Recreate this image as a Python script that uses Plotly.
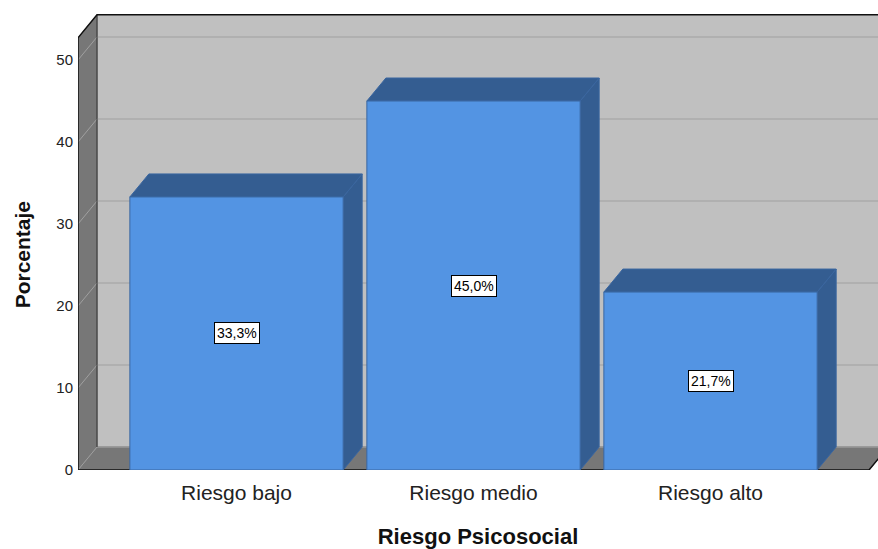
import plotly.graph_objects as go

# Data
categories = ["Riesgo bajo", "Riesgo medio", "Riesgo alto"]
porcentajes = [33.3, 45.0, 21.7]
y_ticks = [0, 10, 20, 30, 40, 50]

# Pseudo-3D geometry (data units)
PX_PER_CAT = 237.0
PX_PER_UNIT = 8.2
DX = 19 / PX_PER_CAT          # depth offset along x
DY = 23 / PX_PER_UNIT         # depth offset along y
BAR_W = 0.9
X_LEFT = -0.6688
X_RIGHT = 2.6688
V_TOP = 52.7

PLOT_L, PLOT_T, PLOT_B = 78, 12, 79
W, H = 878, 549
x_range = [X_LEFT, X_LEFT + (W - PLOT_L) / PX_PER_CAT]
y_range = [0, (H - PLOT_T - PLOT_B) / PX_PER_UNIT]

BACK_WALL = "#C0C0C0"
SIDE_WALL = "#777777"
GRID_BACK = "#ABABAB"
GRID_SIDE = "#A0A0A0"
BAR_FRONT = "#5394E3"
BAR_DARK = "#345D91"
BAR_EDGE = "#3A66A0"

fig = go.Figure()


def poly(xs, ys, fill, line_color=None, width=1):
    fig.add_trace(go.Scatter(
        x=list(xs) + [xs[0]], y=list(ys) + [ys[0]],
        mode="lines", fill="toself", fillcolor=fill,
        line=dict(color=line_color or fill, width=width),
        hoverinfo="skip", showlegend=False,
    ))


def seg(xs, ys, color, width=1):
    fig.add_trace(go.Scatter(
        x=xs, y=ys, mode="lines", line=dict(color=color, width=width),
        hoverinfo="skip", showlegend=False,
    ))


# Back wall
bx0 = X_LEFT + DX
bx1 = X_RIGHT + DX + 0.2
poly([bx0, bx1, bx1, bx0], [DY, DY, V_TOP + DY, V_TOP + DY], BACK_WALL)
# Left wall
poly([X_LEFT, bx0, bx0, X_LEFT], [0, DY, V_TOP + DY, V_TOP], SIDE_WALL)
# Floor
poly([X_LEFT, X_RIGHT, X_RIGHT + DX, bx0], [0, 0, DY, DY], SIDE_WALL)

# Grid lines on the back and left walls
for v in y_ticks:
    if v > 0:
        seg([bx0, bx1], [v + DY, v + DY], GRID_BACK, 1.5)
    seg([X_LEFT, bx0], [v, v + DY], GRID_SIDE, 1)
seg([bx0, bx1], [DY, DY], "#9A9A9A", 1.5)

# Wall edges
seg([bx0, bx0], [DY, V_TOP + DY], "#333333", 1)
seg([X_LEFT, X_LEFT, X_RIGHT, X_RIGHT + DX], [V_TOP, 0, 0, DY], "#111111", 1.5)
seg([X_LEFT, bx0, bx1], [V_TOP, V_TOP + DY, V_TOP + DY], "#111111", 1.5)

# Bars: side, top and front faces
for i, v in enumerate(porcentajes):
    xl, xr = i - BAR_W / 2, i + BAR_W / 2
    poly([xr, xr + DX, xr + DX, xr], [0, DY, v + DY, v], BAR_DARK, BAR_EDGE)
    poly([xl, xl + DX, xr + DX, xr], [v, v + DY, v + DY, v], BAR_DARK, BAR_EDGE)
    poly([xl, xr, xr, xl], [0, 0, v, v], BAR_FRONT, BAR_EDGE)
    fig.add_annotation(
        x=i, y=v / 2, text=f"{v:.1f}%".replace(".", ","), showarrow=False,
        font=dict(family="Liberation Sans, Arial", size=14, color="#000000"),
        bgcolor="#FFFFFF", bordercolor="#000000", borderwidth=1, borderpad=2,
    )

# Y-axis title
fig.add_annotation(
    x=-0.07, xref="paper", xanchor="center", y=26.3, yref="y",
    text="<b>Porcentaje</b>", textangle=-90, showarrow=False,
    font=dict(family="Liberation Sans, Arial", size=21, color="#111111"),
)

fig.update_layout(
    width=W, height=H,
    margin=dict(l=PLOT_L, r=0, t=PLOT_T, b=PLOT_B),
    paper_bgcolor="#FFFFFF", plot_bgcolor="#FFFFFF",
    showlegend=False,
    font=dict(family="Liberation Sans, Arial", color="#222222"),
    xaxis=dict(
        range=x_range, tickvals=list(range(len(categories))), ticktext=categories,
        showgrid=False, zeroline=False, showline=False,
        ticks="outside", ticklen=4, tickcolor="rgba(0,0,0,0)",
        tickfont=dict(size=21, color="#222222"),
        title=dict(text="<b>Riesgo Psicosocial</b>", font=dict(size=22, color="#111111"), standoff=26),
    ),
    yaxis=dict(
        range=y_range, tickvals=y_ticks,
        showgrid=False, zeroline=False, showline=False,
        ticks="", ticklabelstandoff=4,
        tickfont=dict(size=15, color="#222222"),
    ),
)

fig.write_html("out.html")
